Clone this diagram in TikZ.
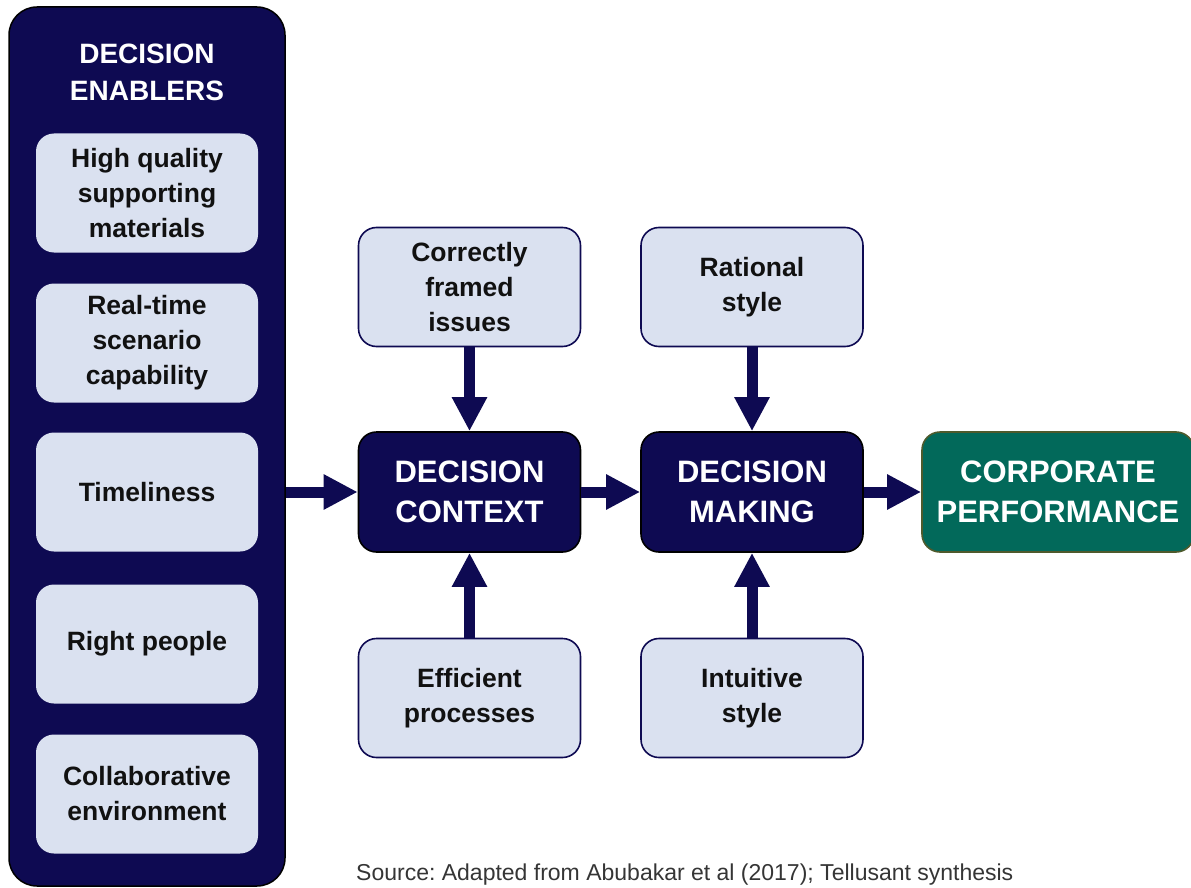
\documentclass[tikz,border=0pt]{standalone}
\usepackage{fontspec}
\setmainfont{Liberation Sans}
\usetikzlibrary{arrows.meta}
\frenchspacing
\definecolor{navy}{HTML}{0E0A52}
\definecolor{lightbl}{HTML}{DAE1F0}
\definecolor{teal}{HTML}{02695A}
\definecolor{olive}{HTML}{4E5A2C}
\definecolor{txt}{HTML}{111111}
\tikzset{
  lbox/.style={fill=lightbl, rounded corners=18pt, minimum width=222pt, minimum height=119pt,
    align=center, text=txt, font=\fontsize{26.5}{35}\selectfont\bfseries, inner sep=0pt},
  mbox/.style={lbox, draw=navy, line width=1.6pt},
  dbox/.style={fill=navy, draw=black, line width=1.6pt, rounded corners=18pt, minimum width=222pt,
    minimum height=120pt, align=center, text=white, font=\fontsize{31}{40}\selectfont\bfseries, inner sep=0pt},
  arr/.style={draw=navy, line width=11pt, -{Triangle[width=33pt,length=34pt]}, shorten >=0pt}
}
\begin{document}
\begin{tikzpicture}[x=1pt,y=-1pt]
\useasboundingbox (0,0) rectangle (1191,888);
\node[fill=navy, draw=black, line width=1.5pt, rounded corners=28pt, minimum width=276pt, minimum height=879pt, inner sep=0pt] (enablers) at (147,446.5) {};
\node[text=white, align=center, font=\fontsize{28}{37}\selectfont\bfseries] (title) at (147,72) {DECISION\\ENABLERS};
\node[lbox] (hq) at (147,193) {High quality\\supporting\\materials};
\node[lbox] (rt) at (147,343) {Real-time\\scenario\\capability};
\node[lbox] (tl) at (147,492) {Timeliness};
\node[lbox] (rp) at (147,644) {Right people};
\node[lbox] (ce) at (147,794) {Collaborative\\environment};

\node[mbox] (cfi) at (469.5,287) {Correctly\\framed\\issues};
\node[mbox] (rat) at (752,287) {Rational\\style};
\node[dbox] (ctx) at (469.5,492) {DECISION\\CONTEXT};
\node[dbox] (mak) at (752,492) {DECISION\\MAKING};
\node[dbox, fill=teal, draw=olive, minimum width=272pt] (perf) at (1058,492) {CORPORATE\\PERFORMANCE};
\node[mbox] (eff) at (469.5,698) {Efficient\\processes};
\node[mbox] (int) at (752,698) {Intuitive\\style};

\draw[arr] (enablers.east |- ctx.west) -- (ctx.west);
\draw[arr] (ctx.east) -- (mak.west);
\draw[arr] (mak.east) -- (perf.west);
\draw[arr] (cfi.south) -- (ctx.north);
\draw[arr] (eff.north) -- (ctx.south);
\draw[arr] (rat.south) -- (mak.north);
\draw[arr] (int.north) -- (mak.south);

\node[anchor=west, text=txt!85, font=\fontsize{23}{27}\selectfont, inner sep=0pt] (src) at (356,875) {Source: Adapted from Abubakar et al (2017); Tellusant synthesis};
\end{tikzpicture}
\end{document}
